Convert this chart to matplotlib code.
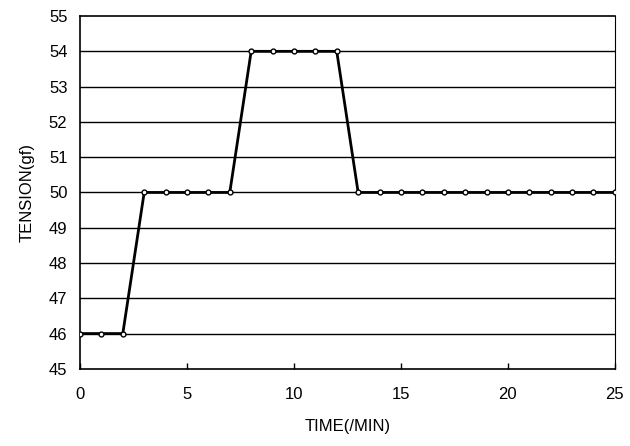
import matplotlib
matplotlib.use("Agg")
import matplotlib.pyplot as plt

plt.rcParams['font.family'] = ['Liberation Sans', 'DejaVu Sans']

time_min = list(range(0, 26))
tension_gf = [46, 46, 46, 50, 50, 50, 50, 50, 54, 54, 54, 54, 54,
              50, 50, 50, 50, 50, 50, 50, 50, 50, 50, 50, 50, 50]
x_ticks = [0, 5, 10, 15, 20, 25]
y_ticks = [45, 46, 47, 48, 49, 50, 51, 52, 53, 54, 55]

fig = plt.figure(figsize=(6.30, 4.46), dpi=100)
ax = fig.add_axes([0.127, 0.173, 0.849, 0.791])

for y in y_ticks[1:-1]:
    ax.axhline(y, color='black', lw=1.0, zorder=1)

ax.plot(time_min, tension_gf, color='black', lw=2.0, marker='o',
        markersize=3.5, markerfacecolor='white', markeredgecolor='black',
        markeredgewidth=1.0, zorder=3)

ax.set_xlim(0, 25)
ax.set_ylim(45, 55)
ax.set_xticks(x_ticks)
ax.set_yticks(y_ticks)
ax.tick_params(axis='x', direction='in', length=4, width=1, labelsize=12, pad=13)
ax.tick_params(axis='y', direction='in', length=0, labelsize=12, pad=9)
for s in ax.spines.values():
    s.set_linewidth(1.2)
ax.spines['right'].set_linewidth(0.8)

ax.set_xlabel('TIME(/MIN)', fontsize=12, labelpad=12)
ax.set_ylabel('TENSION(gf)', fontsize=12, labelpad=10)

fig.savefig('out.png', dpi=100)
